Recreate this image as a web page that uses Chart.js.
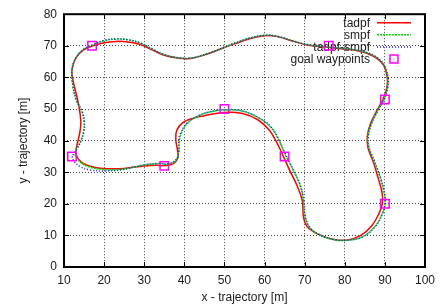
<!DOCTYPE html>
<html>
<head>
<meta charset="utf-8">
<script src="https://cdn.jsdelivr.net/npm/chart.js@4"></script>
<style>
  html, body { margin: 0; padding: 0; background: #fff; }
</style>
</head>
<body>
<canvas id="chart" width="443" height="305"></canvas>
<script>
// axis ticks
const xTicks = [10, 20, 30, 40, 50, 60, 70, 80, 90, 100];
const yTicks = [0, 10, 20, 30, 40, 50, 60, 70, 80];

// goal waypoints [x, y] in metres
const waypoints = [[12, 35], [35, 32], [50, 50], [65, 35], [90, 20], [90, 53], [76, 70], [17, 70]];

// trajectories, [x, y] in metres
const tadpf = [
  [12.9, 36], [13.5, 34.3], [15, 32.6], [17.7, 31.5], [20.5, 31.1], [25, 31.2], [30, 32], [33, 32.2],
  [35, 32.1], [37.2, 32.7], [38.4, 34.6], [38.3, 37], [37.9, 40], [38.1, 43.2], [39.7, 45.8],
  [42.5, 47.2], [44.7, 47.8], [49.7, 48.9], [54.5, 48.6], [58.3, 46.6], [61, 43.6], [62.8, 40],
  [64.6, 35.3], [66.3, 30.5], [68.2, 25.5], [69.4, 21], [69.7, 16], [70.6, 12.8], [73.5, 10.3],
  [77, 8.8], [80.5, 8.5], [84, 10], [86.7, 13], [88.5, 16.8], [89.4, 20.2], [89.3, 23.5],
  [88.4, 27.8], [87.1, 33.3], [85.8, 37.6], [85.6, 41.3], [86.4, 45.3], [88, 49.5], [89.6, 53.2],
  [90.5, 56.8], [90.6, 60], [89.6, 64], [87.2, 66.7], [83.8, 68.3], [79, 69.1], [75, 69.6],
  [71, 70.2], [67.2, 71.4], [63.2, 72.9], [60, 73.2], [56.5, 72.3], [52.5, 70.6], [49.7, 69.3],
  [45.5, 67.3], [41.5, 66], [38.5, 66.1], [35, 67], [32, 68.7], [29, 70.4], [26, 71.2], [23, 71.4],
  [20, 71], [17.2, 70], [14.8, 68.6], [12.9, 66], [12, 62.5], [12.1, 60], [12.8, 56], [13.7, 51],
  [14.2, 46], [14, 43], [13.5, 40], [13.1, 37.8], [12.9, 36]
];

const smpf = [
  [12.7, 35.5], [13.6, 33.7], [16, 31.8], [20.2, 30.8], [24.4, 30.9], [30.2, 32.3], [33.5, 32.7],
  [36, 32.6], [37.9, 33.8], [38.6, 36.5], [38.7, 39], [39.1, 41.8], [40.6, 45.2], [43.5, 47.8],
  [47, 49.2], [50.5, 49.7], [54.5, 49.3], [58.5, 47.2], [61.5, 44.3], [63.3, 40.8], [65, 36],
  [67, 31], [68.8, 26], [69.7, 21], [70.1, 16], [71.3, 12.4], [74, 10], [77.5, 8.6], [81, 8.5],
  [84.6, 9.7], [87.5, 12.8], [89.2, 16.5], [90, 20], [89.8, 23.5], [88.9, 28], [87.3, 33.5],
  [86, 37.8], [85.8, 41.3], [86.6, 45.3], [88.2, 49.5], [89.8, 53.2], [90.6, 56.8], [90.7, 60],
  [89.7, 64], [87.3, 66.8], [83.8, 68.4], [79, 69.2], [75, 69.7], [71, 70.3], [67.2, 71.5],
  [63.2, 73], [60, 73.3], [56.5, 72.5], [52.5, 70.8], [49.7, 69.4], [45.5, 67.4], [41.5, 66.1],
  [38.5, 66.2], [35, 67.2], [32, 69], [29, 70.9], [26, 71.9], [23, 72.1], [20, 71.6], [17.2, 70.3],
  [14.8, 68.8], [12.9, 66], [12, 62.3], [12.2, 57.5], [13, 53], [14.5, 49], [15, 46], [14.9, 43],
  [14.2, 40], [13.2, 37.5], [12.7, 35.5]
];

const tadpfSmpf = [
  [12, 35], [12.5, 33.5], [14, 31.8], [16.5, 30.7], [20, 30.4], [24.4, 30.8], [30.2, 32.4],
  [33.5, 32.8], [36, 32.7], [37.9, 33.9], [38.6, 36.5], [38.6, 39], [38.9, 41.8], [40.5, 45.3],
  [43.5, 47.9], [47, 49.3], [50.5, 49.8], [54.5, 49.4], [58.5, 47.3], [61.6, 44.4], [63.4, 40.8],
  [65.1, 36], [67.1, 31], [68.9, 26], [69.8, 21], [70.2, 16], [71.4, 12.4], [74.1, 10], [77.6, 8.6],
  [81.1, 8.5], [84.7, 9.7], [87.6, 12.8], [89.3, 16.5], [90.1, 20], [89.9, 23.5], [89, 28],
  [87.4, 33.5], [86.1, 37.8], [85.9, 41.3], [86.7, 45.3], [88.3, 49.5], [89.9, 53.2], [90.7, 56.8],
  [90.8, 60], [89.8, 64], [87.4, 66.8], [83.9, 68.4], [79, 69.2], [75, 69.7], [71, 70.3],
  [67.2, 71.5], [63.2, 73], [60, 73.3], [56.5, 72.5], [52.5, 70.8], [49.7, 69.4], [45.5, 67.4],
  [41.5, 66.1], [38.5, 66.2], [35, 67.2], [32, 69], [29, 70.9], [26, 71.9], [23, 72.2], [20, 71.7],
  [17.2, 70.3], [14.8, 68.8], [12.9, 66], [12, 62.3], [12.2, 57.5], [13.1, 53], [14.6, 49],
  [15.1, 46], [15, 43], [14.3, 40], [13.3, 37.5], [12.5, 36], [12, 35]
];

const FONT = { family: '"Liberation Sans", Arial, sans-serif', size: 12 };
const TEXT = '#1a1a1a';

const toPts = arr => arr.map(p => ({ x: p[0], y: p[1] }));

// gnuplot-like key: text right aligned, sample on the right, drawn under the curves
function drawKey(chart) {
  const ctx = chart.ctx;
  const rows = [22.7, 34.8, 46.9, 59];
  ctx.save();
  ctx.font = FONT.size + 'px ' + FONT.family;
  ctx.fillStyle = TEXT;
  ctx.textAlign = 'right';
  ctx.textBaseline = 'middle';
  chart.data.datasets.forEach((ds, i) => {
    const y = rows[i];
    ctx.fillText(ds.label, 370, y + 0.5);
    if (ds.showLine === false) {
      ctx.strokeStyle = ds.borderColor;
      ctx.lineWidth = 1.5;
      ctx.setLineDash([]);
      ctx.strokeRect(390, y - 4, 8, 8);
      ctx.fillStyle = ds.borderColor;
      ctx.fillRect(393.5, y - 0.5, 1, 1);
      ctx.fillStyle = TEXT;
    } else {
      ctx.strokeStyle = ds.borderColor;
      ctx.lineWidth = ds.borderWidth;
      ctx.setLineDash(ds.borderDash || []);
      ctx.beginPath();
      ctx.moveTo(377, y);
      ctx.lineTo(411, y);
      ctx.stroke();
    }
  });
  ctx.restore();
}

const framePlugin = {
  id: 'frame',
  beforeDatasetsDraw(chart) {
    drawKey(chart);
  },
  afterDatasetsDraw(chart) {
    const { ctx, chartArea: a, scales } = chart;
    ctx.save();
    ctx.strokeStyle = '#000';
    ctx.setLineDash([]);
    // inward tick marks on all four sides
    ctx.lineWidth = 1;
    ctx.beginPath();
    xTicks.forEach(v => {
      const px = Math.round(scales.x.getPixelForValue(v)) + 0.5;
      ctx.moveTo(px, a.bottom); ctx.lineTo(px, a.bottom - 5);
      ctx.moveTo(px, a.top); ctx.lineTo(px, a.top + 5);
    });
    yTicks.forEach(v => {
      const py = Math.round(scales.y.getPixelForValue(v)) + 0.5;
      ctx.moveTo(a.left, py); ctx.lineTo(a.left + 5, py);
      ctx.moveTo(a.right, py); ctx.lineTo(a.right - 5, py);
    });
    ctx.stroke();
    ctx.lineWidth = 2;
    ctx.strokeRect(a.left, a.top, a.right - a.left, a.bottom - a.top);
    ctx.restore();
  }
};

new Chart(document.getElementById('chart'), {
  type: 'scatter',
  data: {
    datasets: [
      {
        label: 'tadpf',
        data: toPts(tadpf),
        showLine: true,
        borderColor: '#ff0000',
        borderWidth: 1.5,
        pointRadius: 0,
        tension: 0.4,
        order: 3
      },
      {
        label: 'smpf',
        data: toPts(smpf),
        showLine: true,
        borderColor: '#00e000',
        borderWidth: 1.5,
        borderDash: [2, 1],
        pointRadius: 0,
        tension: 0.4,
        order: 2
      },
      {
        label: 'tadpf-smpf',
        data: toPts(tadpfSmpf),
        showLine: true,
        borderColor: '#2020ff',
        borderWidth: 1.5,
        borderDash: [1, 2],
        pointRadius: 0,
        tension: 0.4,
        order: 1
      },
      {
        label: 'goal waypoints',
        data: toPts(waypoints),
        showLine: false,
        pointStyle: 'rect',
        pointRadius: 6,
        borderColor: '#ff00ff',
        backgroundColor: 'rgba(0,0,0,0)',
        borderWidth: 1.5,
        order: 0
      }
    ]
  },
  options: {
    responsive: false,
    devicePixelRatio: 1,
    animation: false,
    layout: { padding: { top: 13, right: 18, left: 0, bottom: 0 } },
    plugins: {
      legend: { display: false },
      tooltip: { enabled: false }
    },
    scales: {
      x: {
        type: 'linear',
        min: xTicks[0],
        max: xTicks[xTicks.length - 1],
        afterFit: s => { s.height = 38; },
        ticks: { stepSize: 10, padding: 6, color: TEXT, font: FONT, maxRotation: 0 },
        grid: { color: 'rgba(0,0,0,0.75)', drawTicks: false, lineWidth: 1 },
        border: { display: false, dash: [1, 2] },
        title: { display: true, text: 'x - trajectory [m]', color: TEXT, font: FONT, padding: { top: 0, bottom: 0 } }
      },
      y: {
        type: 'linear',
        min: yTicks[0],
        max: yTicks[yTicks.length - 1],
        afterFit: s => { s.width = 64; },
        ticks: { stepSize: 10, padding: 7, color: TEXT, font: FONT },
        grid: { color: 'rgba(0,0,0,0.75)', drawTicks: false, lineWidth: 1 },
        border: { display: false, dash: [1, 2] },
        title: { display: true, text: 'y - trajectory [m]', color: TEXT, font: FONT, padding: { top: 16, bottom: 0 } }
      }
    }
  },
  plugins: [framePlugin]
});
</script>
</body>
</html>
